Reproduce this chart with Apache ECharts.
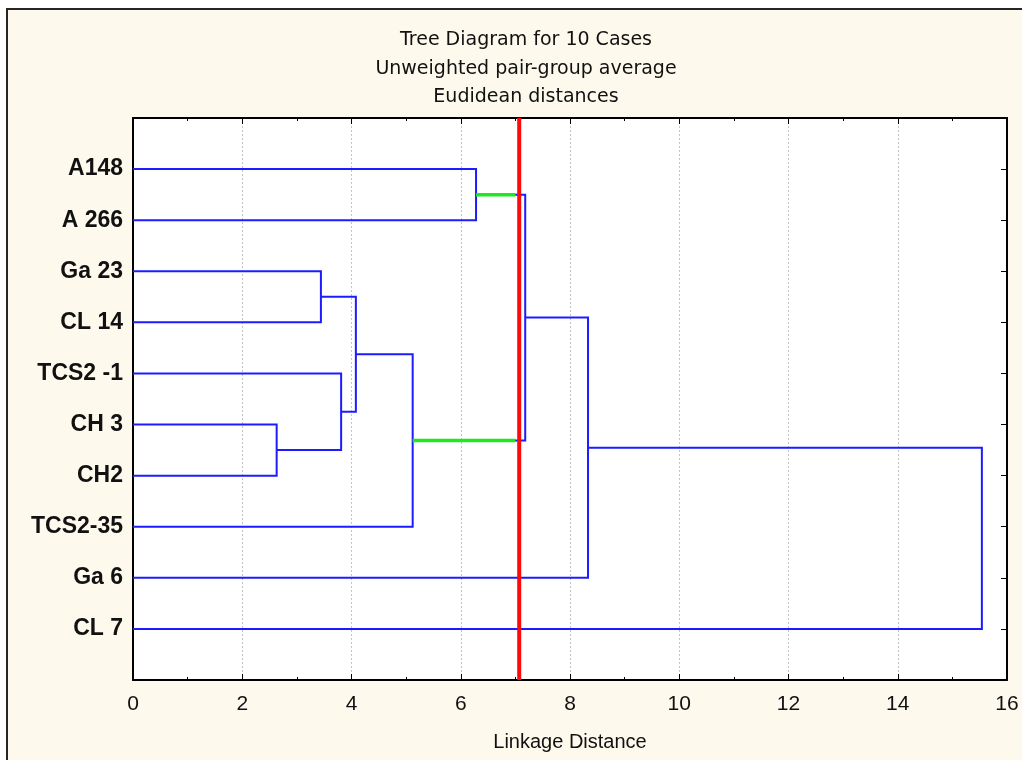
<!DOCTYPE html>
<html>
<head>
<meta charset="utf-8">
<script src="https://cdn.jsdelivr.net/npm/echarts@6/dist/echarts.min.js"></script>
<style>
  html, body { margin: 0; padding: 0; background: #ffffff; overflow: hidden; }
  #frame { position: absolute; left: 6px; top: 8px; width: 1100px; height: 800px;
           background: #fdf9ed; border: 2px solid #262626; box-sizing: border-box; }
  #chart { position: absolute; left: 0; top: 0; width: 1022px; height: 760px; }
</style>
</head>
<body>
<div id="frame"></div>
<div id="chart"></div>
<script>
// ---- data ----
const titleLines = ['Tree Diagram for 10 Cases', 'Unweighted pair-group average', 'Eudidean distances'];
const xAxisTitle = 'Linkage Distance';
const leaves = ['A148', 'A 266', 'Ga 23', 'CL 14', 'TCS2 -1', 'CH 3', 'CH2', 'TCS2-35', 'Ga 6', 'CL 7'];
// merges: [childA, childB, linkage distance]; leaves are 0..9, new clusters numbered from 10
const mergeA = [5, 2, 4, 11, 13, 0, 15, 16, 17];
const mergeB = [6, 3, 10, 12, 7, 1, 14, 8, 9];
const mergeH = [2.63, 3.44, 3.81, 4.08, 5.12, 6.28, 7.18, 8.33, 15.54];
const cutoff = 7.07;                // red line
const highlightChildren = [15, 14]; // clusters whose links are drawn green
const highlightEnd = 7.0;
const xTicks = [0, 2, 4, 6, 8, 10, 12, 14, 16];

// ---- build dendrogram from the data ----
const n = leaves.length;
const pos = [], height = [];
for (let i = 0; i < n; i++) { pos.push(i + 1); height.push(0); }
const blueLinks = [];
for (let k = 0; k < mergeH.length; k++) {
  const a = mergeA[k], b = mergeB[k], h = mergeH[k];
  blueLinks.push({ coords: [[height[a], pos[a]], [h, pos[a]], [h, pos[b]], [height[b], pos[b]]] });
  pos.push((pos[a] + pos[b]) / 2);
  height.push(h);
}
const greenLinks = highlightChildren.map(c => ({ coords: [[height[c], pos[c]], [highlightEnd, pos[c]]] }));
const redLine = [{ coords: [[cutoff, 0], [cutoff, n + 1]] }];

const chart = echarts.init(document.getElementById('chart'), null, { renderer: 'canvas' });
const labelFont = 'Liberation Sans, Arial, sans-serif';
const baseX = {
  type: 'value', min: xTicks[0], max: xTicks[xTicks.length - 1], interval: 2,
  axisLine: { show: true, onZero: false, lineStyle: { color: '#000', width: 2 } },
  axisTick: { show: true, inside: true, length: 6, lineStyle: { color: '#000', width: 1 } },
  minorTick: { show: true, splitNumber: 2, length: 3, lineStyle: { color: '#000', width: 1 } },
  splitLine: { show: false }
};
const baseY = {
  type: 'value', min: 0, max: n + 1, interval: 1, inverse: true,
  axisLine: { show: true, onZero: false, lineStyle: { color: '#000', width: 2 } },
  splitLine: { show: false }
};
chart.setOption({
  animation: false,
  backgroundColor: 'transparent',
  graphic: titleLines.map((t, i) => ({
    type: 'text', x: 526, y: 31 + i * 28.5,
    style: { text: t, textAlign: 'center', fill: '#111', font: '19px "DejaVu Sans", sans-serif' }
  })),
  grid: { left: 133, right: 15, top: 118, bottom: 80, show: true, backgroundColor: '#ffffff', borderWidth: 0 },
  xAxis: [
    Object.assign({}, baseX, {
      position: 'bottom',
      name: xAxisTitle, nameLocation: 'middle', nameGap: 52,
      nameTextStyle: { fontFamily: labelFont, fontSize: 20, color: '#111' },
      axisLabel: { show: true, margin: 14, fontFamily: labelFont, fontSize: 21, color: '#111' },
      splitLine: { show: true, lineStyle: { color: '#c4c4c4', type: [2, 2], width: 1 } }
    }),
    Object.assign({}, baseX, { position: 'top', axisLabel: { show: false } })
  ],
  yAxis: [
    Object.assign({}, baseY, {
      position: 'left',
      axisTick: { show: false },
      axisLabel: {
        show: true, margin: 10, fontFamily: labelFont, fontWeight: 'bold', fontSize: 23, color: '#111',
        formatter: v => (v >= 1 && v <= n) ? leaves[v - 1] : ''
      }
    }),
    Object.assign({}, baseY, {
      position: 'right',
      axisTick: { show: true, inside: true, length: 6, lineStyle: { color: '#000', width: 1 } },
      axisLabel: { show: false }
    })
  ],
  series: [
    {
      type: 'lines', coordinateSystem: 'cartesian2d', polyline: true, z: 3,
      lineStyle: { color: '#1c1cff', width: 2, opacity: 1 },
      data: blueLinks
    },
    {
      type: 'lines', coordinateSystem: 'cartesian2d', polyline: true, z: 4,
      lineStyle: { color: '#1ee81e', width: 3.5, opacity: 1 },
      data: greenLinks
    },
    {
      type: 'lines', coordinateSystem: 'cartesian2d', polyline: true, z: 5,
      lineStyle: { color: '#ff0a0a', width: 4, opacity: 1 },
      data: redLine
    }
  ]
});
</script>
</body>
</html>
